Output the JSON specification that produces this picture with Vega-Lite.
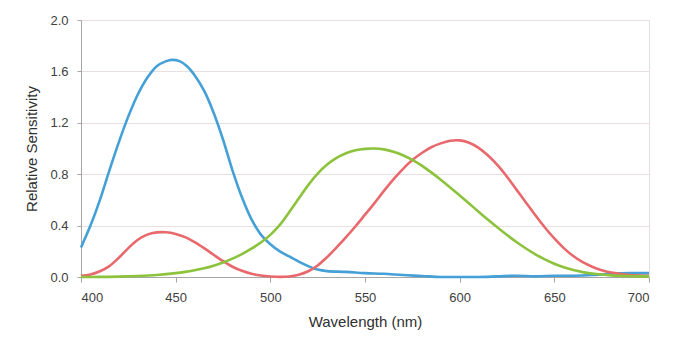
{
  "$schema": "https://vega.github.io/schema/vega-lite/v6.json",
  "autosize": "none",
  "width": 568,
  "height": 257,
  "padding": {"left": 81, "top": 20, "right": 31, "bottom": 76},
  "background": "white",
  "config": {
    "view": {"stroke": "#e6dede", "strokeWidth": 1},
    "font": "Liberation Sans",
    "axis": {
      "labelFont": "Liberation Sans",
      "titleFont": "Liberation Sans",
      "labelFontSize": 13,
      "labelColor": "#404040",
      "titleColor": "#303030",
      "titleFontSize": 15,
      "titleFontWeight": "normal",
      "domainColor": "#a6a6a6",
      "tickColor": "#a6a6a6",
      "gridColor": "#e8dfdf",
      "tickSize": 4
    }
  },
  "data": {"values": [
    {"wl":400,"s":"blue","v":0.23},{"wl":405,"s":"blue","v":0.40},{"wl":410,"s":"blue","v":0.60},{"wl":415,"s":"blue","v":0.83},{"wl":420,"s":"blue","v":1.05},{"wl":425,"s":"blue","v":1.25},{"wl":430,"s":"blue","v":1.42},{"wl":435,"s":"blue","v":1.55},{"wl":440,"s":"blue","v":1.64},{"wl":445,"s":"blue","v":1.68},{"wl":448,"s":"blue","v":1.69},{"wl":452,"s":"blue","v":1.68},{"wl":456,"s":"blue","v":1.64},{"wl":460,"s":"blue","v":1.57},{"wl":465,"s":"blue","v":1.45},{"wl":470,"s":"blue","v":1.28},{"wl":475,"s":"blue","v":1.07},{"wl":480,"s":"blue","v":0.83},{"wl":485,"s":"blue","v":0.62},{"wl":490,"s":"blue","v":0.45},{"wl":495,"s":"blue","v":0.33},{"wl":500,"s":"blue","v":0.255},{"wl":505,"s":"blue","v":0.20},{"wl":510,"s":"blue","v":0.16},{"wl":515,"s":"blue","v":0.12},{"wl":520,"s":"blue","v":0.085},{"wl":525,"s":"blue","v":0.058},{"wl":530,"s":"blue","v":0.046},{"wl":540,"s":"blue","v":0.04},{"wl":550,"s":"blue","v":0.03},{"wl":560,"s":"blue","v":0.025},{"wl":570,"s":"blue","v":0.015},{"wl":580,"s":"blue","v":0.008},{"wl":590,"s":"blue","v":0.0},{"wl":600,"s":"blue","v":0.0},{"wl":610,"s":"blue","v":0.0},{"wl":620,"s":"blue","v":0.005},{"wl":630,"s":"blue","v":0.01},{"wl":640,"s":"blue","v":0.005},{"wl":650,"s":"blue","v":0.01},{"wl":660,"s":"blue","v":0.01},{"wl":670,"s":"blue","v":0.015},{"wl":680,"s":"blue","v":0.025},{"wl":690,"s":"blue","v":0.03},{"wl":700,"s":"blue","v":0.03},
    {"wl":400,"s":"red","v":0.01},{"wl":405,"s":"red","v":0.02},{"wl":410,"s":"red","v":0.045},{"wl":415,"s":"red","v":0.085},{"wl":420,"s":"red","v":0.15},{"wl":425,"s":"red","v":0.225},{"wl":430,"s":"red","v":0.29},{"wl":435,"s":"red","v":0.33},{"wl":440,"s":"red","v":0.347},{"wl":445,"s":"red","v":0.348},{"wl":450,"s":"red","v":0.335},{"wl":455,"s":"red","v":0.31},{"wl":460,"s":"red","v":0.272},{"wl":465,"s":"red","v":0.225},{"wl":470,"s":"red","v":0.173},{"wl":475,"s":"red","v":0.123},{"wl":480,"s":"red","v":0.08},{"wl":485,"s":"red","v":0.048},{"wl":490,"s":"red","v":0.025},{"wl":495,"s":"red","v":0.011},{"wl":500,"s":"red","v":0.004},{"wl":505,"s":"red","v":0.001},{"wl":510,"s":"red","v":0.004},{"wl":515,"s":"red","v":0.018},{"wl":520,"s":"red","v":0.045},{"wl":525,"s":"red","v":0.09},{"wl":530,"s":"red","v":0.155},{"wl":535,"s":"red","v":0.23},{"wl":540,"s":"red","v":0.31},{"wl":545,"s":"red","v":0.395},{"wl":550,"s":"red","v":0.485},{"wl":555,"s":"red","v":0.575},{"wl":560,"s":"red","v":0.67},{"wl":565,"s":"red","v":0.76},{"wl":570,"s":"red","v":0.84},{"wl":575,"s":"red","v":0.91},{"wl":580,"s":"red","v":0.965},{"wl":585,"s":"red","v":1.01},{"wl":590,"s":"red","v":1.04},{"wl":595,"s":"red","v":1.06},{"wl":600,"s":"red","v":1.063},{"wl":605,"s":"red","v":1.045},{"wl":610,"s":"red","v":1.005},{"wl":615,"s":"red","v":0.945},{"wl":620,"s":"red","v":0.87},{"wl":625,"s":"red","v":0.78},{"wl":630,"s":"red","v":0.68},{"wl":635,"s":"red","v":0.58},{"wl":640,"s":"red","v":0.48},{"wl":645,"s":"red","v":0.385},{"wl":650,"s":"red","v":0.30},{"wl":655,"s":"red","v":0.225},{"wl":660,"s":"red","v":0.163},{"wl":665,"s":"red","v":0.115},{"wl":670,"s":"red","v":0.08},{"wl":675,"s":"red","v":0.053},{"wl":680,"s":"red","v":0.035},{"wl":685,"s":"red","v":0.024},{"wl":690,"s":"red","v":0.016},{"wl":695,"s":"red","v":0.012},{"wl":700,"s":"red","v":0.01},
    {"wl":400,"s":"green","v":0.0},{"wl":410,"s":"green","v":0.001},{"wl":420,"s":"green","v":0.003},{"wl":430,"s":"green","v":0.008},{"wl":440,"s":"green","v":0.016},{"wl":450,"s":"green","v":0.03},{"wl":455,"s":"green","v":0.04},{"wl":460,"s":"green","v":0.053},{"wl":465,"s":"green","v":0.068},{"wl":470,"s":"green","v":0.088},{"wl":475,"s":"green","v":0.113},{"wl":480,"s":"green","v":0.143},{"wl":485,"s":"green","v":0.178},{"wl":490,"s":"green","v":0.22},{"wl":495,"s":"green","v":0.268},{"wl":500,"s":"green","v":0.328},{"wl":505,"s":"green","v":0.405},{"wl":510,"s":"green","v":0.505},{"wl":515,"s":"green","v":0.61},{"wl":520,"s":"green","v":0.715},{"wl":525,"s":"green","v":0.805},{"wl":530,"s":"green","v":0.875},{"wl":535,"s":"green","v":0.927},{"wl":540,"s":"green","v":0.963},{"wl":545,"s":"green","v":0.986},{"wl":550,"s":"green","v":0.997},{"wl":555,"s":"green","v":1.0},{"wl":560,"s":"green","v":0.993},{"wl":565,"s":"green","v":0.975},{"wl":570,"s":"green","v":0.948},{"wl":575,"s":"green","v":0.912},{"wl":580,"s":"green","v":0.867},{"wl":585,"s":"green","v":0.814},{"wl":590,"s":"green","v":0.757},{"wl":595,"s":"green","v":0.697},{"wl":600,"s":"green","v":0.635},{"wl":605,"s":"green","v":0.572},{"wl":610,"s":"green","v":0.508},{"wl":615,"s":"green","v":0.445},{"wl":620,"s":"green","v":0.385},{"wl":625,"s":"green","v":0.327},{"wl":630,"s":"green","v":0.272},{"wl":635,"s":"green","v":0.222},{"wl":640,"s":"green","v":0.177},{"wl":645,"s":"green","v":0.137},{"wl":650,"s":"green","v":0.103},{"wl":655,"s":"green","v":0.076},{"wl":660,"s":"green","v":0.054},{"wl":665,"s":"green","v":0.038},{"wl":670,"s":"green","v":0.027},{"wl":675,"s":"green","v":0.019},{"wl":680,"s":"green","v":0.013},{"wl":690,"s":"green","v":0.007},{"wl":700,"s":"green","v":0.005}
  ]},
  "mark": {"type": "line", "interpolate": "catmull-rom", "strokeWidth": 2.6},
  "encoding": {
    "x": {"field": "wl", "type": "quantitative", "title": "Wavelength (nm)",
          "scale": {"domain": [400, 700], "nice": false, "zero": false},
          "axis": {"values": [400,450,500,550,600,650,700], "grid": false, "labelPadding": 9, "titlePadding": 10, "tickSize": 5}},
    "y": {"field": "v", "type": "quantitative", "title": "Relative Sensitivity",
          "scale": {"domain": [0, 2.0], "nice": false},
          "axis": {"values": [0,0.4,0.8,1.2,1.6,2.0], "format": ".1f", "grid": true, "labelPadding": 9, "titlePadding": 10}},
    "color": {"field": "s", "type": "nominal", "legend": null,
              "scale": {"domain": ["red","green","blue"], "range": ["#e8686c","#8cc23c","#44a0d6"]}},
    "order": {"field": "wl", "type": "quantitative"}
  }
}
